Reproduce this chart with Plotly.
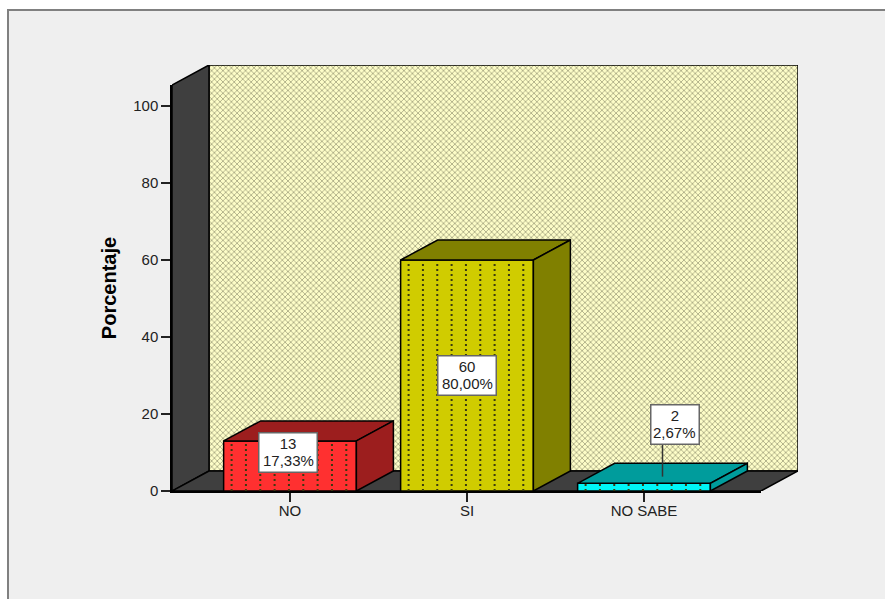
import numpy as np
import plotly.graph_objects as go

categories = ["NO", "SI", "NO SABE"]
counts = [13, 60, 2]
percent_labels = ["17,33%", "80,00%", "2,67%"]
y_ticks = [0, 20, 40, 60, 80, 100]
axis_title = "Porcentaje"

front_colors = ["#ff3030", "#d0cc00", "#00f6f6"]
side_colors = ["#9c1e1e", "#808000", "#009c9c"]
WALL = "#3f3f3f"
PANEL = "#efefef"
EDGE = "#000000"

W, H = 885, 599
L, R, T, B = 172, 798, 65, 491      # full box of the 3D frame in pixels
FRONT_R, FRONT_T = 761, 85          # front plane of the frame
PX_X = 177.0                        # pixels per category
PX_Y = 3.85                         # pixels per unit
X0 = -(290 - L) / PX_X
X1 = (FRONT_R - 290) / PX_X
Y1 = (B - FRONT_T) / PX_Y
DX = (R - FRONT_R) / PX_X           # depth offset in data units
DY = (B - T - (B - FRONT_T)) / PX_Y
BAR_W = 0.75

fig = go.Figure()


def poly(xs, ys, color, axes=("x2", "y2"), **kw):
    fig.add_trace(go.Scatter(
        x=xs, y=ys, mode="lines", fill="toself", fillcolor=color,
        line=dict(color=EDGE, width=1.5), hoverinfo="skip", showlegend=False,
        cliponaxis=False, xaxis=axes[0], yaxis=axes[1], **kw))


# frame: walls and floor, on the base axes
base = ("x", "y")
poly([X0 + DX, X1 + DX, X1 + DX, X0 + DX, X0 + DX], [DY, DY, Y1 + DY, Y1 + DY, DY],
     "#fdfdc8", base,
     fillpattern=dict(shape="x", fgcolor="#3c3c28", bgcolor="#fdfdc8", size=4, solidity=0.34))
poly([X0, X0 + DX, X0 + DX, X0, X0], [0, DY, Y1 + DY, Y1, 0], WALL, base)
poly([X0, X0 + DX, X1 + DX, X1, X0], [0, DY, DY, 0, 0], WALL, base)

# front faces
fig.add_trace(go.Bar(
    x=list(range(len(categories))), y=counts, width=BAR_W,
    marker=dict(color=front_colors, line=dict(color=EDGE, width=1.5)),
    hoverinfo="skip", showlegend=False, xaxis="x2", yaxis="y2"))

# stipple columns on the front faces
for i, v in enumerate(counts):
    xs, ys = [], []
    for off in np.arange(-BAR_W / 2 + 0.045, BAR_W / 2, 0.081):
        xs += [i + off, i + off, None]
        ys += [0, v, None]
    fig.add_trace(go.Scatter(
        x=xs, y=ys, mode="lines", line=dict(color="#3a3a10", width=2, dash="2px,3px"),
        hoverinfo="skip", showlegend=False, xaxis="x2", yaxis="y2"))

# top and side faces
for i, v in enumerate(counts):
    l, r = i - BAR_W / 2, i + BAR_W / 2
    poly([l, l + DX, r + DX, r, l], [v, v + DY, v + DY, v, v], side_colors[i])
    poly([r, r + DX, r + DX, r, r], [0, DY, v + DY, v, 0], side_colors[i])

# connector of the NO SABE label
fig.add_trace(go.Scatter(
    x=[2 + DX / 2, 2 + DX / 2], y=[counts[2] + DY / 3, counts[2] + 10.7], mode="lines",
    line=dict(color="#333333", width=1.5), hoverinfo="skip", showlegend=False,
    xaxis="x2", yaxis="y2"))

label_pos = [(-0.01, 9.9), (1.0, 30.0), (2.175, 17.2)]
label_widths = [55, 55, 45]
LABEL_FONT = dict(family="Liberation Sans", size=15, color="#222222")
annotations = []
for (ax, ay), bw, c, p in zip(label_pos, label_widths, counts, percent_labels):
    annotations.append(dict(
        x=ax, y=ay, xref="x2", yref="y2", showarrow=False,
        text=str(c), align="center", valign="top", width=bw, height=36,
        font=LABEL_FONT, bgcolor="#ffffff", bordercolor="#666666", borderwidth=1.5, borderpad=1))
    annotations.append(dict(
        x=ax, y=ay, yshift=-8, xref="x2", yref="y2", showarrow=False,
        text=p, align="center", font=LABEL_FONT, borderpad=0))

fig.update_layout(
    width=W, height=H, autosize=False, showlegend=False,
    margin=dict(l=L, r=W - R, t=T, b=H - B),
    paper_bgcolor="#ffffff", plot_bgcolor="rgba(0,0,0,0)",
    font=dict(family="Liberation Sans", size=15, color="#222222"),
    annotations=annotations,
    shapes=[dict(type="rect", xref="paper", yref="paper", layer="below",
                 x0=(8 - L) / (R - L), x1=(W + 20 - L) / (R - L),
                 y0=-(H + 20 - B) / (B - T), y1=(B - 10) / (B - T),
                 fillcolor=PANEL, line=dict(color="#808080", width=2))],
    xaxis=dict(domain=[0, 1], range=[X0, X1 + DX], visible=False, fixedrange=True),
    yaxis=dict(domain=[0, 1], range=[0, Y1 + DY], visible=False, fixedrange=True),
    xaxis2=dict(domain=[0, (FRONT_R - L) / (R - L)], range=[X0, X1], anchor="y2",
                tickvals=list(range(len(categories))), ticktext=categories,
                ticks="outside", ticklen=9, tickwidth=1.5, tickcolor="#222222",
                ticklabelstandoff=-4,
                showline=True, linecolor=EDGE, linewidth=1.5, showgrid=False, zeroline=False,
                tickfont=dict(size=15)),
    yaxis2=dict(domain=[0, (B - FRONT_T) / (B - T)], range=[0, Y1], anchor="x2",
                tickvals=y_ticks, ticks="outside", ticklen=9, tickwidth=1.5, tickcolor="#222222",
                showline=True, linecolor=EDGE, linewidth=1.5, showgrid=False, zeroline=False,
                tickfont=dict(size=15),
                title=dict(text=f"<b>{axis_title}</b>", font=dict(size=20, color="#000000"), standoff=11)),
)

fig.write_html("out.html", config={"displayModeBar": False},
               post_script="document.body.style.margin='0';")
